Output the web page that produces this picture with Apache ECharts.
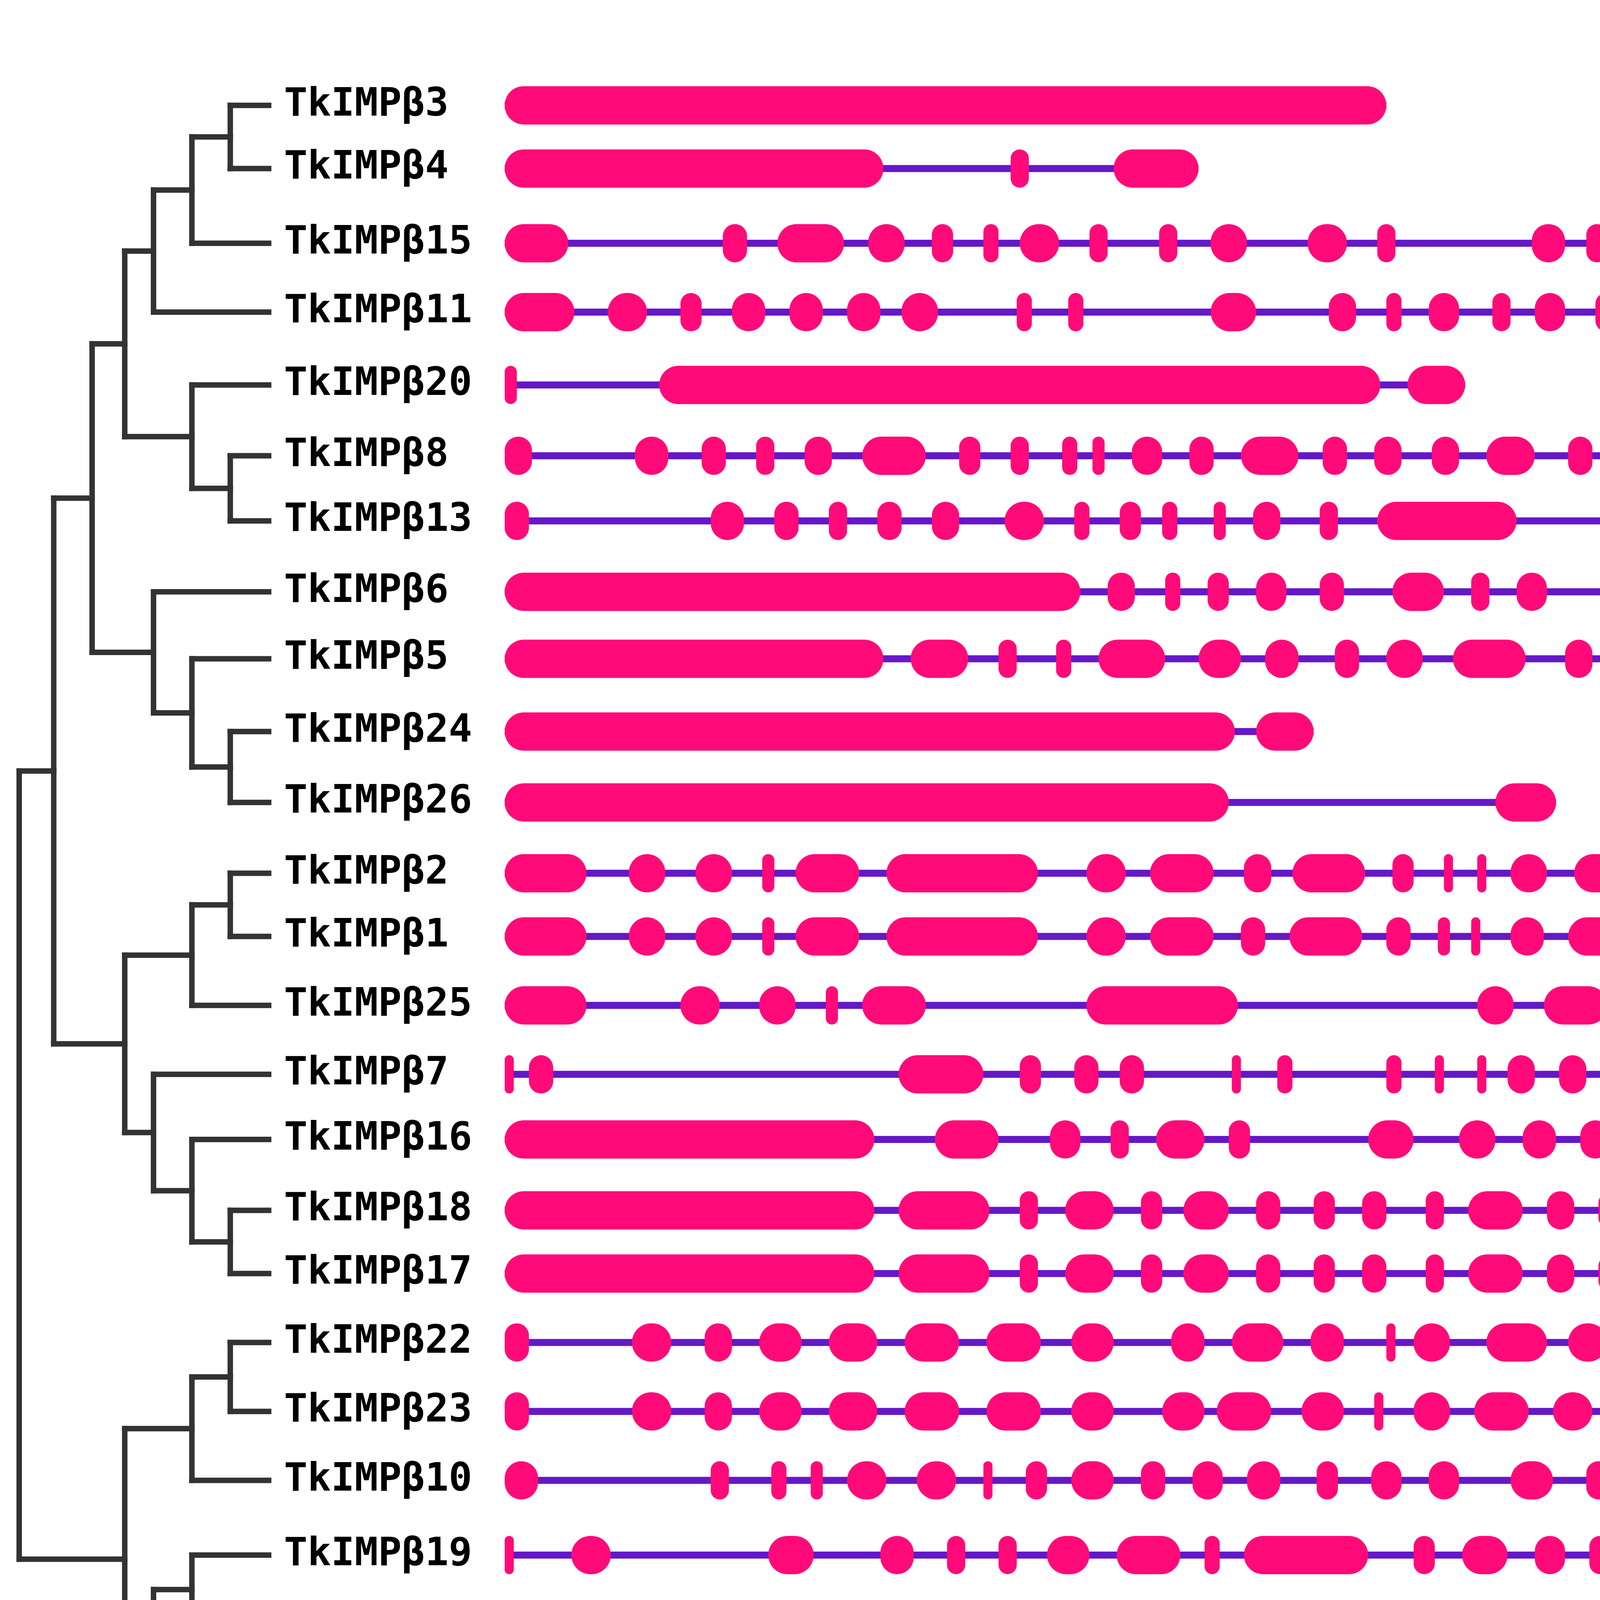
<!DOCTYPE html>
<html><head><meta charset="utf-8">
<script src="https://cdn.jsdelivr.net/npm/echarts@6/dist/echarts.min.js"></script>
<style>html,body{margin:0;padding:0;background:#fff}#c{width:7703px;height:5295px}</style>
</head><body><div id="c"></div>
<script>
const genes = ['β3','β4','β15','β11','β20','β8','β13','β6','β5','β24','β26','β2','β1','β25','β7','β16','β18','β17','β22','β23','β10','β19','β21','β14','β9','β27','β12'];
const rowY = [55,88,127,163,201,238,272,309,344,382,419,456,489,525,561,595,632,665,701,737,773,812,848,881,916,953,989];
const xTicks = ['0kb','1kb','2kb','3kb','4kb','5kb','6kb','7kb','8kb'];
const exons = {
'β3':[[0,2.91]],
'β4':[[0,1.25],[1.67,1.73],[2.01,2.29]],
'β15':[[0,0.21],[0.72,0.80],[0.90,1.12],[1.20,1.32],[1.41,1.48],[1.58,1.63],[1.70,1.83],[1.93,1.99],[2.16,2.22],[2.33,2.45],[2.65,2.78],[2.88,2.94],[3.39,3.50],[3.57,3.64],[3.78,3.91],[3.99,4.15],[4.22,4.31],[4.40,4.59],[4.67,4.75],[4.82,5.01],[5.09,5.20],[5.29,5.46],[5.54,5.66],[5.71,5.92],[6.98,7.17],[7.24,7.43]],
'β11':[[0,0.23],[0.34,0.47],[0.58,0.65],[0.75,0.86],[0.94,1.05],[1.13,1.24],[1.31,1.43],[1.69,1.74],[1.86,1.91],[2.33,2.48],[2.72,2.81],[2.91,2.96],[3.05,3.15],[3.26,3.32],[3.40,3.50],[3.60,3.67],[3.77,3.82],[3.91,3.96],[4.04,4.12],[4.22,4.30],[4.40,4.49],[4.59,4.66],[4.74,4.95],[5.03,5.16],[5.24,5.37],[5.45,5.59],[5.69,5.78],[5.86,5.88],[5.97,6.09]],
'β20':[[0,0.04],[0.51,2.89],[2.98,3.17]],
'β8':[[0,0.09],[0.43,0.54],[0.65,0.73],[0.83,0.89],[0.99,1.08],[1.18,1.39],[1.50,1.57],[1.67,1.73],[1.84,1.89],[1.94,1.98],[2.07,2.17],[2.26,2.34],[2.43,2.62],[2.70,2.78],[2.87,2.96],[3.06,3.15],[3.24,3.40],[3.51,3.59],[3.68,3.74],[3.84,3.91],[3.99,4.08],[4.16,4.24],[4.32,4.48],[4.57,4.64],[4.73,4.83],[4.92,5.01],[5.09,5.23],[5.31,5.43],[5.52,5.62],[5.71,5.84]],
'β13':[[0,0.08],[0.68,0.79],[0.89,0.97],[1.07,1.13],[1.23,1.31],[1.41,1.50],[1.65,1.78],[1.88,1.93],[2.03,2.10],[2.17,2.22],[2.34,2.38],[2.47,2.56],[2.69,2.75],[2.88,3.34],[3.72,3.88],[3.97,4.06],[4.40,4.48],[4.57,4.74],[5.43,5.68],[5.77,5.83],[6.05,6.16],[6.23,6.33],[6.41,6.54],[6.63,6.76],[6.87,6.92],[6.96,6.99],[7.04,7.10]],
'β6':[[0,1.90],[1.99,2.08],[2.18,2.23],[2.32,2.39],[2.48,2.58],[2.69,2.77],[2.93,3.10],[3.19,3.25],[3.34,3.44],[3.70,3.84],[3.96,4.05]],
'β5':[[0,1.25],[1.34,1.53],[1.63,1.69],[1.82,1.87],[1.96,2.18],[2.29,2.43],[2.51,2.62],[2.74,2.82],[2.91,3.03],[3.13,3.37],[3.50,3.59],[3.69,3.77],[3.86,3.92],[4.02,4.07],[4.19,4.31],[4.43,4.57],[4.66,4.81]],
'β24':[[0,2.41],[2.48,2.67]],
'β26':[[0,2.39],[3.27,3.47]],
'β2':[[0,0.27],[0.41,0.53],[0.63,0.75],[0.85,0.89],[0.96,1.17],[1.26,1.76],[1.92,2.05],[2.13,2.34],[2.44,2.53],[2.60,2.84],[2.93,3.00],[3.10,3.13],[3.21,3.24],[3.32,3.44],[3.53,3.72],[3.80,3.89],[3.97,4.07],[4.16,4.29],[4.36,4.67]],
'β1':[[0,0.27],[0.41,0.53],[0.63,0.75],[0.85,0.89],[0.96,1.17],[1.26,1.76],[1.92,2.05],[2.13,2.34],[2.43,2.51],[2.59,2.83],[2.91,2.99],[3.08,3.12],[3.19,3.22],[3.32,3.43],[3.51,3.71],[3.78,3.88],[3.95,4.05],[4.14,4.27],[4.34,4.55]],
'β25':[[0,0.27],[0.58,0.71],[0.84,0.96],[1.06,1.10],[1.18,1.39],[1.92,2.42],[3.21,3.33],[3.43,3.64],[3.74,3.82],[4.37,4.62],[4.72,4.78],[5.21,5.24],[5.36,5.40],[5.50,5.62],[6.10,6.30],[6.97,7.07],[7.14,7.25],[7.34,7.47],[7.57,7.67],[7.75,7.94]],
'β7':[[0,0.03],[0.08,0.16],[1.30,1.58],[1.70,1.77],[1.88,1.96],[2.03,2.11],[2.40,2.43],[2.55,2.60],[2.91,2.96],[3.07,3.10],[3.21,3.24],[3.31,3.40],[3.48,3.57],[3.65,3.72],[3.79,3.88],[3.95,4.02],[4.06,4.17],[4.27,4.35],[4.45,4.52],[4.72,4.83],[5.98,6.05],[6.14,6.25],[6.35,6.45],[6.53,6.59],[6.69,6.76],[6.85,6.92],[7.00,7.12],[7.20,7.26],[7.37,7.43],[7.64,7.71],[8.00,8.07]],
'β16':[[0,1.22],[1.42,1.63],[1.80,1.90],[2.00,2.06],[2.15,2.31],[2.39,2.46],[2.85,3.00],[3.15,3.27],[3.36,3.47],[3.55,3.65],[3.74,3.79],[3.88,4.05],[4.14,4.24],[4.32,4.41],[4.50,4.57],[4.64,4.71],[4.77,4.91],[5.01,5.09],[5.16,5.22],[5.35,5.50]],
'β18':[[0,1.22],[1.30,1.60],[1.70,1.76],[1.85,2.01],[2.10,2.17],[2.24,2.39],[2.48,2.56],[2.67,2.74],[2.83,2.91],[3.04,3.10],[3.18,3.36],[3.44,3.53],[3.61,3.69],[3.76,3.83],[3.91,3.98],[4.07,4.19],[4.28,4.36],[4.45,4.51],[5.12,5.14]],
'β17':[[0,1.22],[1.30,1.60],[1.70,1.76],[1.85,2.01],[2.10,2.17],[2.24,2.39],[2.48,2.56],[2.67,2.74],[2.83,2.91],[3.04,3.10],[3.18,3.36],[3.44,3.53],[3.61,3.69],[3.76,3.83],[3.91,3.98],[4.07,4.19],[4.28,4.36],[4.45,4.51],[4.65,4.78]],
'β22':[[0,0.08],[0.42,0.55],[0.66,0.75],[0.84,0.98],[1.07,1.23],[1.32,1.50],[1.59,1.77],[1.87,2.01],[2.20,2.31],[2.40,2.57],[2.66,2.77],[2.91,2.94],[3.00,3.12],[3.24,3.44],[3.51,3.64],[3.72,3.81],[3.90,4.07],[4.16,4.27],[4.40,4.55],[4.77,4.93],[5.01,5.14],[5.22,5.36]],
'β23':[[0,0.08],[0.42,0.55],[0.66,0.75],[0.84,0.98],[1.07,1.23],[1.32,1.50],[1.59,1.77],[1.87,2.01],[2.17,2.31],[2.35,2.53],[2.63,2.77],[2.87,2.90],[3.00,3.12],[3.20,3.38],[3.46,3.59],[3.67,3.77],[3.86,4.03],[4.13,4.26],[4.35,4.48],[4.74,4.88],[4.96,5.09],[5.17,5.31]],
'β10':[[0,0.11],[0.68,0.74],[0.88,0.93],[1.01,1.05],[1.13,1.26],[1.36,1.49],[1.58,1.61],[1.72,1.79],[1.87,2.01],[2.10,2.18],[2.27,2.37],[2.45,2.56],[2.68,2.75],[2.86,2.96],[3.05,3.15],[3.32,3.46],[3.57,3.65],[3.76,3.83],[3.93,4.00],[4.11,4.18],[4.27,4.33],[4.41,4.60],[4.78,4.92],[5.01,5.17],[5.26,5.54]],
'β19':[[0,0.03],[0.22,0.35],[0.87,1.02],[1.24,1.35],[1.46,1.52],[1.63,1.69],[1.79,1.93],[2.02,2.23],[2.31,2.36],[2.44,2.85],[3.00,3.07],[3.16,3.31],[3.40,3.50],[3.58,3.65],[3.74,3.83],[3.91,4.01],[4.11,4.19],[4.27,4.35],[4.43,4.49],[4.62,4.83],[4.93,4.97],[5.04,5.26],[5.36,5.45],[5.52,5.57],[5.66,5.71],[5.78,5.94]],
'β21':[[0,2.70]],
'β14':[[0,0.12],[0.52,0.60],[0.74,0.82],[0.91,1.20],[1.28,1.36],[1.44,1.55],[1.62,1.70],[1.75,1.89],[1.99,2.03],[2.11,2.17],[2.25,2.32],[2.41,2.54],[2.62,2.67],[2.75,2.82],[2.92,2.98],[3.05,3.10],[3.19,3.29],[3.42,3.48],[3.55,3.65],[3.76,3.83],[3.91,3.98],[4.05,4.14],[4.23,4.29],[4.41,4.62],[4.84,4.95],[5.03,5.24],[5.36,5.43],[5.52,5.65],[5.73,5.80],[5.93,6.00],[6.12,6.17]],
'β9':[[0,0.12],[0.52,0.60],[0.74,0.82],[0.91,1.20],[1.28,1.36],[1.44,1.55],[1.62,1.70],[1.75,1.89],[1.99,2.03],[2.11,2.17],[2.25,2.32],[2.41,2.54],[2.62,2.67],[2.75,2.82],[2.92,2.98],[3.05,3.10],[3.27,3.38],[3.46,3.53],[3.59,3.69],[3.78,3.86],[3.97,4.07],[4.22,4.29],[4.47,4.66],[4.90,5.01],[5.11,5.30],[5.38,5.44],[5.53,5.67],[5.74,5.80],[5.97,6.04],[6.12,6.17]],
'β27':[[0,0.11],[0.71,0.81],[0.92,1.07],[1.17,1.25],[1.36,1.42],[1.51,1.58],[1.66,1.82],[1.91,1.99],[2.05,2.28],[2.36,2.42],[2.51,2.77],[2.88,2.99],[3.16,3.30],[3.38,3.55],[3.63,3.73],[3.82,3.92],[3.99,4.27],[4.35,4.59],[4.67,5.12],[5.21,5.50],[5.57,5.74],[5.86,5.93]],
'β12':[[0,0.27]]
};
const tree = {x:10,c:[
 {x:28,c:[
  {x:48,c:[
   {x:65,c:[
    {x:80,c:[{x:100,c:[{x:120,c:['β3','β4']},'β15']},'β11']},
    {x:100,c:['β20',{x:120,c:['β8','β13']}]}]},
   {x:80,c:['β6',{x:100,c:['β5',{x:120,c:['β24','β26']}]}]}]},
  {x:65,c:[
   {x:100,c:[{x:120,c:['β2','β1']},'β25']},
   {x:80,c:['β7',{x:100,c:['β16',{x:120,c:['β18','β17']}]}]}]}]},
 {x:65,c:[
  {x:100,c:[{x:120,c:['β22','β23']},'β10']},
  {x:80,c:[{x:100,c:['β19','β21']},{x:100,c:[{x:120,c:['β14','β9']},{x:120,c:['β27','β12']}]}]}]}
]};
const LEAFX = 140;
const segs = [];
function lay(n){
  if (typeof n === 'string') return {y: rowY[genes.indexOf(n)], x: LEAFX};
  const ys = n.c.map(ch => { const r = lay(ch); segs.push([n.x, r.y, r.x, r.y]); return r.y; });
  segs.push([n.x, Math.min(...ys), n.x, Math.max(...ys)]);
  return {y:(Math.min(...ys)+Math.max(...ys))/2, x:n.x};
}
lay(tree);
const exonData = [], intronData = [], labelData = [];
genes.forEach((g,i)=>{
  const ex = exons[g];
  ex.forEach(e => exonData.push([e[0], e[1], rowY[i]]));
  intronData.push([ex[0][0], ex[ex.length-1][1], rowY[i]]);
  labelData.push([148, rowY[i], 'TkIMP' + g]);
});
const EXON='#ff0a78', INTRON='#6418c8';
const chart = echarts.init(document.getElementById('c'));
chart.setOption({
  backgroundColor:'#fff', animation:false,
  grid:[{left:1292,right:206,top:0,bottom:162},{left:0,width:1292,top:0,bottom:162}],
  xAxis:[
    {gridIndex:0,type:'value',min:0,max:8,interval:1,position:'bottom',
     axisLine:{show:true,onZero:false,lineStyle:{color:'#000',width:6}},
     axisTick:{show:true,length:22,lineStyle:{color:'#000',width:5}},
     splitLine:{show:false},
     axisLabel:{formatter:(v)=>xTicks[v],fontFamily:'Liberation Serif',fontWeight:'bold',fontSize:84,color:'#000',margin:30}},
    {gridIndex:1,type:'value',min:0,max:263,show:false}
  ],
  yAxis:[
    {gridIndex:0,type:'value',min:0,max:1047,inverse:true,show:false},
    {gridIndex:1,type:'value',min:0,max:1047,inverse:true,show:false}
  ],
  series:[
    {type:'custom',xAxisIndex:0,yAxisIndex:0,data:intronData,silent:true,clip:false,
     renderItem:(p,api)=>{const a=api.coord([api.value(0),api.value(2)]),b=api.coord([api.value(1),api.value(2)]);
       return {type:'line',shape:{x1:a[0],y1:a[1],x2:b[0],y2:b[1]},style:{stroke:INTRON,lineWidth:18}};}},
    {type:'custom',xAxisIndex:0,yAxisIndex:0,data:exonData,silent:true,clip:false,
     renderItem:(p,api)=>{const a=api.coord([api.value(0),api.value(2)]),b=api.coord([api.value(1),api.value(2)]);
       const h=98, w=Math.max(b[0]-a[0],22);
       return {type:'rect',shape:{x:a[0],y:a[1]-h/2,width:w,height:h,r:Math.min(h/2,w/2)},style:{fill:EXON}};}},
    {type:'custom',xAxisIndex:1,yAxisIndex:1,data:segs,silent:true,
     renderItem:(p,api)=>{const a=api.coord([api.value(0),api.value(1)]),b=api.coord([api.value(2),api.value(3)]);
       return {type:'line',shape:{x1:a[0],y1:a[1],x2:b[0],y2:b[1]},style:{stroke:'#333',lineWidth:14,lineCap:'square'}};}},
    {type:'custom',xAxisIndex:1,yAxisIndex:1,data:labelData,silent:true,
     renderItem:(p,api)=>{const a=api.coord([api.value(0),api.value(1)]);
       return {type:'text',x:a[0],y:a[1],style:{text:api.value(2),fill:'#000',font:'bold 100px "DejaVu Sans Mono"',textAlign:'left',textVerticalAlign:'middle'}};}}
  ],
  graphic:[
    {type:'rect',shape:{x:6878,y:25,width:182,height:103,r:51},style:{fill:EXON}},
    {type:'text',x:7163,y:78,style:{text:'Exon',font:'128px "Liberation Serif"',fill:'#000',textVerticalAlign:'middle'}},
    {type:'line',shape:{x1:6888,y1:241,x2:7060,y2:241},style:{stroke:INTRON,lineWidth:20}},
    {type:'text',x:7133,y:241,style:{text:'Intron',font:'128px "Liberation Serif"',fill:'#000',textVerticalAlign:'middle'}},
    {type:'text',x:7600,y:5085,style:{text:"3'",font:'98px "Liberation Serif"',fill:'#000',textVerticalAlign:'middle'}}
  ]
});
</script></body></html>
